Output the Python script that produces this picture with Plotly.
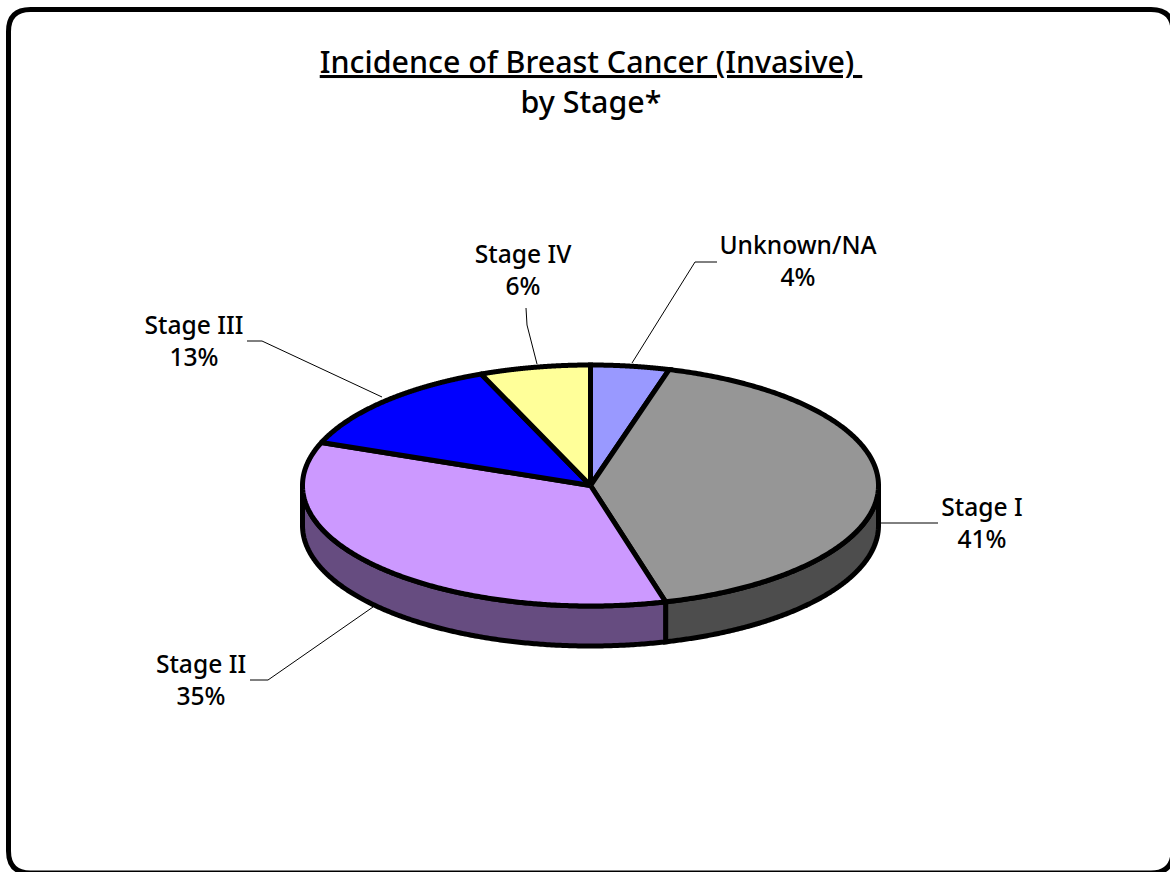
import numpy as np
import plotly.graph_objects as go

categories = ["Unknown/NA", "Stage I", "Stage II", "Stage III", "Stage IV"]
values = [4.4, 41.4, 35.0, 13.0, 6.2]
percent_labels = ["4%", "41%", "35%", "13%", "6%"]
top_colors = ["#9999FF", "#969696", "#CC99FF", "#0000FF", "#FFFF99"]
side_colors = ["#4D4D80", "#4D4D4D", "#664C80", "#000080", "#808050"]

W, H = 1170, 872
CX, CY, RX, RY, DEPTH = 590.5, 485.5, 288.0, 120.5, 40.0
LW = 5
FONT = "Noto Sans, DejaVu Sans, sans-serif"

label_pos = [(798, 264), (982, 526), (201, 683), (194, 344), (523, 273)]
leaders = [
    [(632, 363), (695, 262), (717, 262)],
    [(880, 523), (938, 523)],
    [(373, 607), (268, 680), (250, 680)],
    [(382, 397), (262, 341), (247, 341)],
    [(537, 364), (527, 325), (526, 308)],
]


def ell(t, dy=0.0):
    return CX + RX * np.sin(t), CY + dy - RY * np.cos(t)


fig = go.Figure()
total = sum(values)
edges = np.cumsum([0] + values) / total * 2 * np.pi

# side wall: only the part of each slice facing the viewer
for i in range(len(values)):
    a, b = max(edges[i], np.pi / 2), min(edges[i + 1], 3 * np.pi / 2)
    if b <= a:
        continue
    t = np.linspace(a, b, 240)
    x1, y1 = ell(t)
    x2, y2 = ell(t[::-1], DEPTH)
    fig.add_trace(go.Scatter(
        x=np.r_[x1, x2, x1[0]], y=np.r_[y1, y2, y1[0]], mode="lines", fill="toself",
        fillcolor=side_colors[i], line=dict(color="black", width=LW, simplify=False),
        hoverinfo="skip", showlegend=False))

# top face
for i in range(len(values)):
    t = np.linspace(edges[i], edges[i + 1], 320)
    x, y = ell(t)
    fig.add_trace(go.Scatter(
        x=np.r_[CX, x, CX], y=np.r_[CY, y, CY], mode="lines", fill="toself",
        fillcolor=top_colors[i], line=dict(color="black", width=LW, simplify=False),
        name=categories[i], hoverinfo="name", showlegend=False))

# leader lines
for pts in leaders:
    fig.add_trace(go.Scatter(
        x=[p[0] for p in pts], y=[p[1] for p in pts], mode="lines",
        line=dict(color="black", width=1), hoverinfo="skip", showlegend=False))

# labels
fig.add_trace(go.Scatter(
    x=[p[0] for p in label_pos], y=[p[1] for p in label_pos], mode="text",
    text=[f"{c}<br>{p}" for c, p in zip(categories, percent_labels)],
    textposition="middle center",
    textfont=dict(family=FONT, size=24.6, color="black", weight=500),
    hoverinfo="skip", showlegend=False))

x0, y0, x1, y1, r = 8.5, 9.5, 1173, 873, 22
border = (f"M{x0+r},{y0} L{x1-r},{y0} Q{x1},{y0} {x1},{y0+r} L{x1},{y1-r} "
          f"Q{x1},{y1} {x1-r},{y1} L{x0+r},{y1} Q{x0},{y1} {x0},{y1-r} L{x0},{y0+r} Q{x0},{y0} {x0+r},{y0} Z")

fig.update_layout(
    width=W, height=H, margin=dict(l=0, r=0, t=0, b=0),
    paper_bgcolor="white", plot_bgcolor="white",
    title=dict(
        text="<u>Incidence of Breast Cancer (Invasive)\u00a0</u><br>by Stage*",
        x=591 / W, xanchor="center", y=1 - 73 / H, yanchor="top",
        font=dict(family=FONT, size=30.4, color="black", weight=500)),
    xaxis=dict(range=[0, W], visible=False, fixedrange=True),
    yaxis=dict(range=[H, 0], visible=False, fixedrange=True),
    shapes=[dict(type="path", path=border, xref="x", yref="y",
                 line=dict(color="black", width=5), layer="below")],
)

fig.write_html("out.html", config={"displayModeBar": False},
               post_script="document.body.style.margin='0';document.body.style.overflow='hidden';")
